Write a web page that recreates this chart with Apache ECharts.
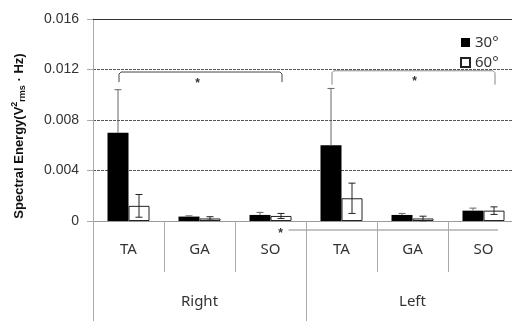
<!DOCTYPE html>
<html>
<head>
<meta charset="utf-8">
<script src="https://cdn.jsdelivr.net/npm/echarts@6/dist/echarts.min.js"></script>
<style>
  html, body { margin: 0; padding: 0; background: #fff; }
  #chart { width: 512px; height: 321px; }
</style>
</head>
<body>
<div id="chart"></div>
<script>
const categories = ['TA', 'GA', 'SO', 'TA', 'GA', 'SO']
const groups = ['Right', 'Left']
const mean30 = [0.0070, 0.00035, 0.00048, 0.0060, 0.00048, 0.00082]
const sd30 = [0.0034, 0.00006, 0.0002, 0.0045, 0.00012, 0.0002]
const mean60 = [0.0012, 0.0002, 0.0004, 0.0018, 0.0002, 0.00082]
const sd60 = [0.0009, 0.00014, 0.0002, 0.0012, 0.00018, 0.0003]

const barWidth = 21
const chart = echarts.init(document.getElementById('chart'))

function errorBars(offset, upOnly, color) {
  return function (params, api) {
    const i = api.value(0)
    const m = api.value(1)
    const e = api.value(2)
    const x = api.coord([i, 0])[0] + offset
    const top = api.coord([i, m + e])[1]
    const mid = api.coord([i, m])[1]
    const bot = api.coord([i, Math.max(m - e, 0)])[1]
    const style = { stroke: color, lineWidth: 1 }
    const children = [
      { type: 'line', shape: { x1: x, y1: top, x2: x, y2: upOnly ? mid : bot }, style },
      { type: 'line', shape: { x1: x - 3.5, y1: top, x2: x + 3.5, y2: top }, style },
    ]
    if (!upOnly) {
      children.push({ type: 'line', shape: { x1: x - 3.5, y1: bot, x2: x + 3.5, y2: bot }, style })
    }
    return { type: 'group', children }
  }
}

const labelFont = { fontFamily: 'Noto Sans', fontSize: 15, color: '#333' }

const option = {
  animation: false,
  grid: { left: 93, right: -7, top: 19, bottom: 100, outerBoundsMode: 'none' },
  legend: {
    orient: 'vertical',
    left: 455,
    top: 30,
    itemWidth: 9,
    itemHeight: 9,
    itemGap: 5,
    icon: 'rect',
    textStyle: { fontFamily: 'Noto Sans', fontSize: 15, color: '#333' },
    data: ['30°', '60°'],
  },
  xAxis: [
    {
      type: 'category',
      data: categories,
      axisLine: { lineStyle: { color: '#999' } },
      axisTick: { show: true, length: 51, interval: 0, lineStyle: { color: '#aaa' } },
      axisLabel: Object.assign({ margin: 21, interval: 0 }, labelFont),
    },
    {
      type: 'category',
      data: groups,
      position: 'bottom',
      axisLine: { show: false },
      axisTick: { show: true, length: 110, interval: 0, lineStyle: { color: '#aaa' } },
      axisLabel: Object.assign({ margin: 73 }, labelFont),
    },
  ],
  yAxis: {
    type: 'value',
    min: 0,
    max: 0.016,
    interval: 0.004,
    axisLine: { show: true, lineStyle: { color: '#aaa' } },
    axisTick: { show: true, length: 6, lineStyle: { color: '#aaa' } },
    axisLabel: { margin: 14, fontFamily: 'Liberation Sans', fontSize: 14, color: '#333' },
    splitLine: { lineStyle: { color: '#555', type: [3, 1] } },
  },
  series: [
    {
      name: '30°',
      type: 'bar',
      data: mean30,
      barWidth,
      barGap: 0,
      itemStyle: { color: '#000' },
    },
    {
      name: '60°',
      type: 'bar',
      data: mean60,
      barWidth,
      barGap: 0,
      itemStyle: { color: '#fff', borderColor: '#222', borderWidth: 1 },
    },
    {
      type: 'custom',
      renderItem: errorBars(-barWidth / 2, true, '#666'),
      data: mean30.map((v, i) => [i, v, sd30[i]]),
      z: 5,
    },
    {
      type: 'custom',
      renderItem: errorBars(barWidth / 2, false, '#222'),
      data: mean60.map((v, i) => [i, v, sd60[i]]),
      z: 5,
    },
  ],
}

chart.setOption(option)

// significance marks and the solid top rule, placed from the axes
const px = (i, v) => chart.convertToPixel({ gridIndex: 0 }, [i, v])
const half = barWidth / 2
const rA = px(0, 0.0118), rB = px(2, 0.0118), rEnd = px(0, 0.011)
const lA = px(3, 0.0119), lB = px(5, 0.0119), lEnd = px(3, 0.0108)
const base = px(2, 0)
const topRule = px(0, 0.016)

function bracket(x1, x2, y, yEnd, color) {
  return {
    type: 'polyline',
    shape: { points: [[x1, yEnd], [x1, y + 2], [x1 + 2, y], [x2 - 2, y], [x2, y + 2], [x2, yEnd]] },
    style: { stroke: color, fill: null, lineWidth: 1 },
  }
}
function star(x, y) {
  return {
    type: 'text', x, y,
    style: { text: '*', font: 'bold 12px Liberation Sans', fill: '#333', align: 'center', verticalAlign: 'middle' },
  }
}

chart.setOption({
  graphic: [
    {
      type: 'line',
      z: 10,
      shape: { x1: 93, y1: Math.round(topRule[1]) + 0.5, x2: 512, y2: Math.round(topRule[1]) + 0.5 },
      style: { stroke: '#333', lineWidth: 1 },
    },
    bracket(rA[0] - half + 1, rB[0] + half + 1, rA[1], rEnd[1], '#444'),
    star((rA[0] + rB[0]) / 2 - 2, rA[1] + 12),
    bracket(lA[0] - half + 1, lB[0] + half + 1, lA[1], lEnd[1], '#888'),
    star((lA[0] + lB[0]) / 2 + 2, lA[1] + 11),
    {
      type: 'line',
      shape: { x1: base[0] + 18, y1: base[1] + 9, x2: 498, y2: base[1] + 9 },
      style: { stroke: '#888', lineWidth: 1 },
    },
    star(base[0] + 10, base[1] + 13),
    {
      type: 'text',
      x: 19,
      y: 136,
      rotation: Math.PI / 2,
      style: {
        text: '{b|Spectral Energy(V}{sup|2}{sub|rms}{b| · Hz)}',
        align: 'center',
        verticalAlign: 'middle',
        rich: {
          b: { fontFamily: 'Liberation Sans', fontWeight: 'bold', fontSize: 13, fill: '#111', lineHeight: 20, verticalAlign: 'middle' },
          sup: { fontFamily: 'Liberation Sans', fontWeight: 'bold', fontSize: 9, fill: '#111', lineHeight: 20, verticalAlign: 'top', padding: [1, 0, 0, 0] },
          sub: { fontFamily: 'Liberation Sans', fontWeight: 'bold', fontSize: 9, fill: '#111', lineHeight: 20, verticalAlign: 'bottom', padding: [0, 0, 2, 0] },
        },
      },
    },
  ],
})
</script>
</body>
</html>
